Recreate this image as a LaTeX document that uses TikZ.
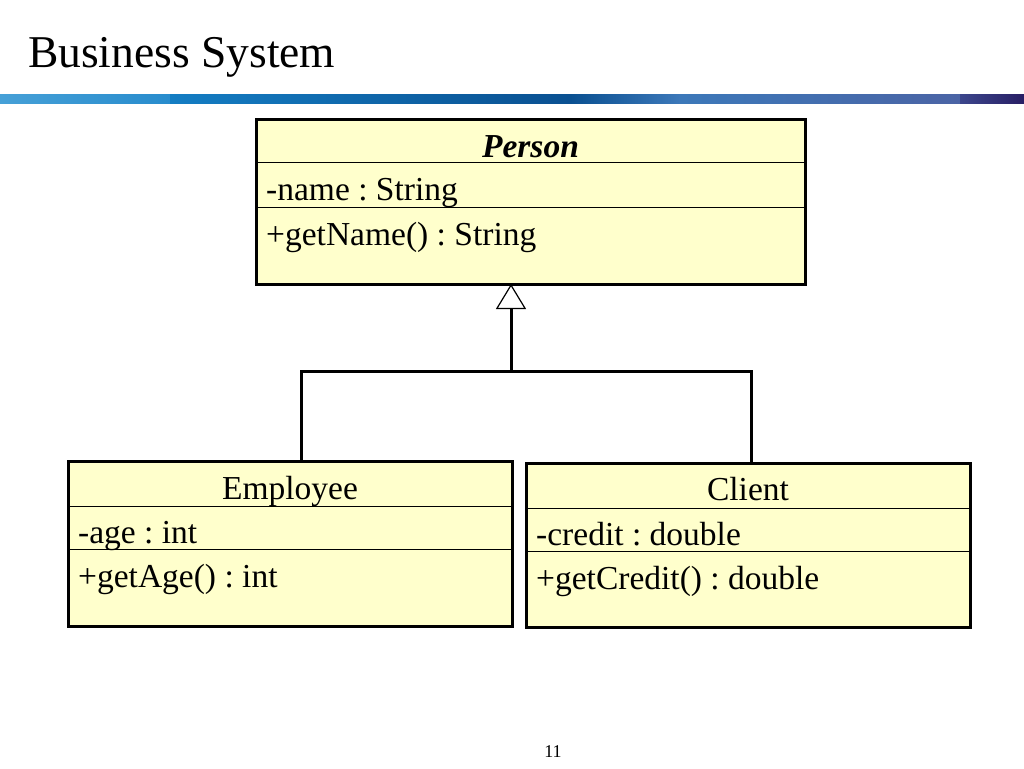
\documentclass[tikz,border=0pt]{standalone}
\usepackage{fontspec}
\setmainfont{Liberation Serif}
\usetikzlibrary{arrows.meta,calc}
\definecolor{boxfill}{HTML}{FFFFCC}
\frenchspacing
\begin{document}
\begin{tikzpicture}[x=1pt,y=-1pt,
  classbox/.style={draw=black, line width=3pt, fill=boxfill, rectangle, inner sep=0pt, outer sep=0pt, anchor=north west},
  divider/.style={draw=black, line width=1pt},
  cname/.style={anchor=base, inner sep=0pt, font=\fontsize{33.5}{40}\selectfont},
  member/.style={anchor=base west, inner sep=0pt, font=\fontsize{33.5}{40}\selectfont},
  conn/.style={draw=black, line width=3pt},
  inherit/.style={conn, -{Triangle[length=25pt,width=30pt,fill=white,line width=1.2pt]}}
]
\useasboundingbox (0,0) rectangle (1024,768);
% title
\node[anchor=base west, inner sep=0pt, font=\fontsize{45.5}{54}\selectfont] (title) at (28,67) {Business System};
% gradient bar
\shade[left color={rgb,255:red,70;green,160;blue,215}, right color={rgb,255:red,40;green,140;blue,205}] (0,94) rectangle (170,103);
\shade[left color={rgb,255:red,20;green,125;blue,195}, right color={rgb,255:red,10;green,80;blue,145}] (170,94) rectangle (570,103);
\shade[left color={rgb,255:red,10;green,80;blue,145}, right color={rgb,255:red,60;green,120;blue,185}] (570,94) rectangle (680,103);
\shade[left color={rgb,255:red,60;green,120;blue,185}, right color={rgb,255:red,75;green,100;blue,165}] (680,94) rectangle (960,103);
\shade[left color={rgb,255:red,60;green,70;blue,140}, right color={rgb,255:red,40;green,30;blue,100}] (960,94) rectangle (1024,103);

% Person
\node[classbox, minimum width=549pt, minimum height=165pt] (person) at (256,119) {};
\draw[divider] (256,162) -- (805,162);
\draw[divider] (256,207) -- (805,207);
\node[cname, font=\fontsize{33.5}{40}\selectfont\bfseries\itshape] (pname) at (530.5,157) {Person};
\node[member] (pattr) at (266,200) {-name : String};
\node[member] (pmeth) at (266,245) {+getName() : String};

% Employee
\node[classbox, minimum width=444pt, minimum height=165pt] (emp) at (68,461) {};
\draw[divider] (68,506) -- (512,506);
\draw[divider] (68,549) -- (512,549);
\node[cname] (ename) at (290,499) {Employee};
\node[member] (eattr) at (78,543) {-age : int};
\node[member] (emeth) at (78,587) {+getAge() : int};

% Client
\node[classbox, minimum width=444pt, minimum height=164pt] (cli) at (526,463) {};
\draw[divider] (526,508) -- (970,508);
\draw[divider] (526,551) -- (970,551);
\node[cname] (cname) at (748,500) {Client};
\node[member] (cattr) at (536,545) {-credit : double};
\node[member] (cmeth) at (536,589) {+getCredit() : double};

% inheritance
\coordinate (j) at (511,371);
\draw[conn] ($(emp.north)+(11,0)$) |- (j) -| ($(cli.north)+(3,0)$);
\draw[inherit] (j) -- (j |- person.south);

% page number
\node[anchor=base, inner sep=0pt, font=\fontsize{18}{22}\selectfont] (page) at (553,757) {11};
\end{tikzpicture}
\end{document}
